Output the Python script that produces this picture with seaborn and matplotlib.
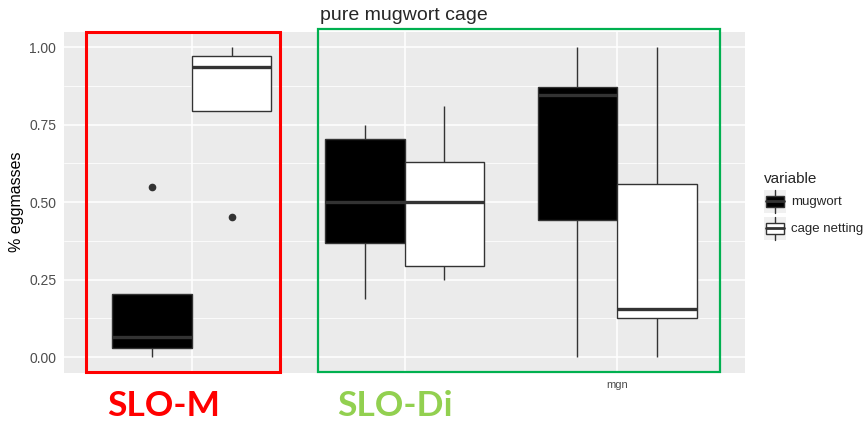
import pandas as pd
import matplotlib
matplotlib.use("Agg")
import matplotlib.pyplot as plt
import matplotlib.patches as mpatches
from matplotlib.lines import Line2D
from matplotlib.legend_handler import HandlerBase
import seaborn as sns

# groups on the x axis (only the last one carries a tick label)
groups = ["SLO-M", "SLO-Di", "mgn"]
tick_labels = ["", "", "mgn"]
variables = ["mugwort", "cage netting"]

# five values per box
slo_m_mugwort = [0.0, 0.029, 0.065, 0.204, 0.548]
slo_m_cage = [0.452, 0.795, 0.935, 0.970, 1.0]
slo_di_mugwort = [0.188, 0.368, 0.50, 0.704, 0.749]
slo_di_cage = [0.249, 0.294, 0.50, 0.630, 0.811]
mgn_mugwort = [0.0, 0.441, 0.845, 0.872, 1.0]
mgn_cage = [0.0, 0.127, 0.155, 0.558, 1.0]

series = {
    ("SLO-M", "mugwort"): slo_m_mugwort,
    ("SLO-M", "cage netting"): slo_m_cage,
    ("SLO-Di", "mugwort"): slo_di_mugwort,
    ("SLO-Di", "cage netting"): slo_di_cage,
    ("mgn", "mugwort"): mgn_mugwort,
    ("mgn", "cage netting"): mgn_cage,
}
rows = []
for (g, v), vals in series.items():
    for x in vals:
        rows.append({"group": g, "variable": v, "value": x})
df = pd.DataFrame(rows)

sns.set_style("darkgrid", {"axes.facecolor": "#EBEBEB", "grid.color": "white"})
plt.rcParams["font.family"] = ["Liberation Sans", "DejaVu Sans"]

W, H = 868, 423
fig = plt.figure(figsize=(W / 100, H / 100), dpi=100)
ax = fig.add_axes([64 / W, (H - 372.7) / H, (745 - 64) / W, (372.7 - 31.7) / H])

sns.boxplot(data=df, x="group", y="value", hue="variable", order=groups,
            hue_order=variables, palette=["black", "white"], width=0.75, gap=0,
            linecolor="#333333", linewidth=1.0, showcaps=False, fliersize=4.5,
            flierprops=dict(marker="o", markerfacecolor="#333333",
                            markeredgecolor="#333333"),
            medianprops=dict(linewidth=2.4, color="#333333"),
            legend=False, ax=ax)

ax.set_xlim(-0.6, 2.6)
ax.set_ylim(-0.05, 1.05)
ax.set_yticks([0, 0.25, 0.5, 0.75, 1.0])
ax.set_yticklabels(["0.00", "0.25", "0.50", "0.75", "1.00"])
ax.set_yticks([0.125, 0.375, 0.625, 0.875], minor=True)
ax.set_xticks([0, 1, 2])
ax.set_xticklabels(tick_labels)
ax.grid(which="major", color="white", lw=1.1)
ax.grid(which="minor", axis="y", color="white", lw=0.55)
ax.set_axisbelow(True)
for s in ax.spines.values():
    s.set_visible(False)
ax.tick_params(which="major", length=3.5, width=1.0, color="#333333",
               labelcolor="#4D4D4D", labelsize=10, pad=2)
ax.tick_params(axis="x", labelsize=8)
ax.tick_params(which="minor", length=0)
ax.set_xlabel("")
ax.set_ylabel("% eggmasses", fontsize=11.5, color="black", labelpad=4)

fig.text(320 / W, 1 - 16 / H, "pure mugwort cage", fontsize=14, va="center",
         ha="left")


class BoxKey(HandlerBase):
    def create_artists(self, legend, orig_handle, xdescent, ydescent, width,
                       height, fontsize, trans):
        fill = orig_handle.get_facecolor()
        x0, y0 = -xdescent, -ydescent
        bg = mpatches.Rectangle((x0, y0), width, height, facecolor="#F0F0F0",
                                edgecolor="none", transform=trans)
        cx = x0 + width / 2
        wh = Line2D([cx, cx], [y0, y0 + height], color="#333333", lw=1.0,
                    transform=trans)
        bx = mpatches.Rectangle((x0 + width * 0.1, y0 + height * 0.27),
                                width * 0.8, height * 0.46, facecolor=fill,
                                edgecolor="#333333", lw=1.0, transform=trans)
        md = Line2D([x0 + width * 0.1, x0 + width * 0.9], [y0 + height / 2] * 2,
                    color="#333333", lw=2.0, transform=trans)
        return [bg, wh, bx, md]


handles = [mpatches.Patch(facecolor="black"), mpatches.Patch(facecolor="white")]
fig.legend(handles, variables, title="variable", loc="upper left",
           bbox_to_anchor=(752 / W, 1 - 160 / H), frameon=False, fontsize=9.5,
           title_fontsize=11, alignment="left", handlelength=1.67,
           handleheight=2.3, handletextpad=0.4, labelspacing=0.3,
           handler_map={mpatches.Patch: BoxKey()})

# highlight frames drawn over the figure
fig.patches.append(mpatches.Rectangle((85.7 / W, (H - 371.7) / H), 194.3 / W,
                                      339.7 / H, fill=False, edgecolor="#FF0000",
                                      lw=2.2, transform=fig.transFigure))
fig.patches.append(mpatches.Rectangle((318 / W, (H - 372.3) / H), 402.3 / W,
                                      343 / H, fill=False, edgecolor="#00B050",
                                      lw=1.6, transform=fig.transFigure))

fig.text(107 / W, 1 - 416 / H, "SLO-M", color="#FF0000", fontsize=25.5,
         fontweight="bold", family=["Lato", "DejaVu Sans"], va="baseline")
fig.text(337 / W, 1 - 416 / H, "SLO-Di", color="#92D050", fontsize=25.5,
         fontweight="bold", family=["Lato", "DejaVu Sans"], va="baseline")

fig.savefig("out.png", dpi=100)
